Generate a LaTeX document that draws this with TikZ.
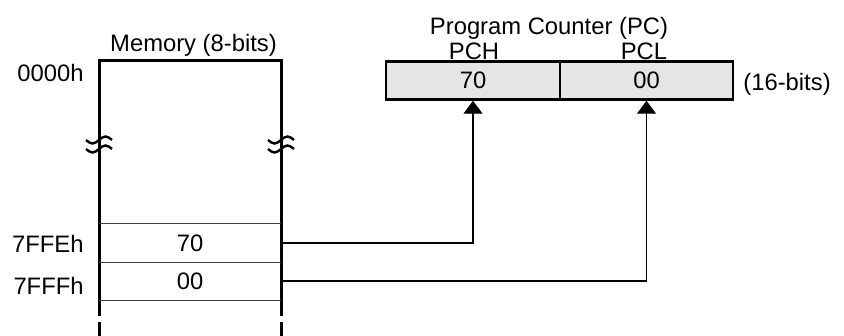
\documentclass[tikz,border=0pt]{standalone}
\usepackage{fontspec}
\setmainfont{Liberation Sans}
\usetikzlibrary{arrows.meta}
\begin{document}
\begin{tikzpicture}[x=0.5pt,y=-0.5pt,
  lbl/.style={font=\fontsize{11.9}{14}\selectfont, inner sep=0pt},
  memwall/.style={line width=1.5pt},
  rowline/.style={line width=0.75pt, black!75},
  cell/.style={lbl, minimum width=91pt, minimum height=19pt},
  pcbox/.style={lbl, draw, line width=1.25pt, fill=black!10, minimum height=19pt},
  brk/.style={line width=1.2pt},
  conn/.style={line width=0.7pt, -{Triangle[length=6.5pt,width=9.5pt]}}]
\useasboundingbox (0,0) rectangle (844,336);
% memory walls
\draw[memwall] (99,316) -- (99,61) -- (281,61) -- (281,316);
\draw[memwall] (99,322) -- (99,336);
\draw[memwall] (281,322) -- (281,336);
% break marks
\foreach \bx in {99,281} {
  \foreach \by in {140,149} {
    \draw[brk] (\bx-13,\by) sin (\bx-6.5,\by+3.5) cos (\bx,\by) sin (\bx+6.5,\by-3.5) cos (\bx+13,\by);
  }
}
% memory cells
\node[cell] (m70) at (190,243) {70};
\node[cell] (m00) at (190,281) {00};
\draw[rowline] (m70.north west) -- (m70.north east);
\draw[rowline] (m70.south west) -- (m70.south east);
\draw[rowline] (m00.south west) -- (m00.south east);
% labels
\node[lbl, anchor=base] (memlbl) at (193.5,52) {Memory (8-bits)};
\node[lbl, anchor=base east] (a0) at (84,82) {0000h};
\node[lbl, anchor=base east] (a1) at (84,252.7) {7FFEh};
\node[lbl, anchor=base east] (a2) at (84,294) {7FFFh};
% program counter
\node[pcbox, minimum width=87pt] (pch) at (473,80.5) {70};
\node[pcbox, minimum width=86.5pt] (pcl) at (646.5,80.5) {00};
\node[lbl, anchor=base] (pchlbl) at (474,60) {PCH};
\node[lbl, anchor=base] (pcllbl) at (644,60) {PCL};
\node[lbl, anchor=base] (pclbl) at (549,35) {Program Counter (PC)};
\node[lbl, anchor=base west] (bits) at (743,91) {(16-bits)};
% connectors
\draw[conn] (m70.east) -| (pch.south);
\draw[conn] (m00.east) -| (pcl.south);
\end{tikzpicture}
\end{document}
